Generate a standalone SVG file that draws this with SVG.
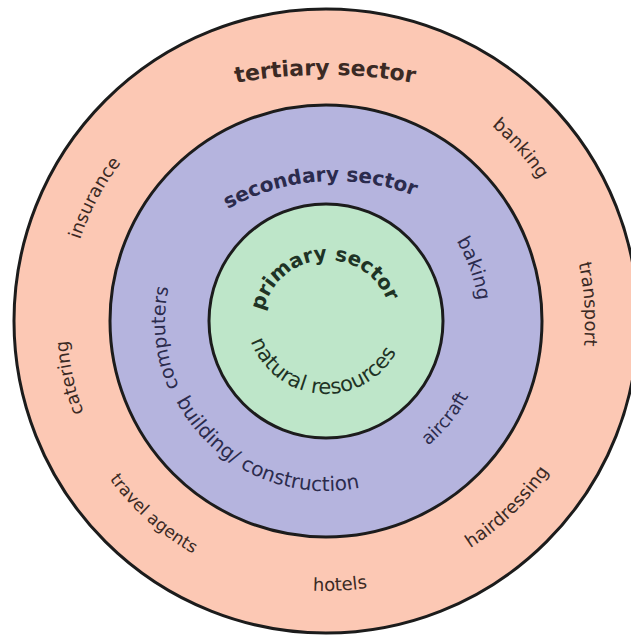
<svg xmlns="http://www.w3.org/2000/svg" xmlns:xlink="http://www.w3.org/1999/xlink" width="631" height="637" viewBox="0 0 631 637">
<style>
.ring{stroke:#1c1c1c;stroke-width:3}
.t{font-family:"DejaVu Sans","Liberation Sans",sans-serif}
.b{font-weight:bold}
.o{fill:#3b2a24}
.m{fill:#2b2b4d}
.i{fill:#1e3325}
</style>
<defs>
<path id="pTer" d="M -175 575 A 500 500 0 0 1 325 75 A 500 500 0 0 1 825 575"/>
<path id="pBank" d="M 156.03 129.56 A 256 256 0 0 1 517.44 151.03 A 256 256 0 0 1 495.97 512.44"/>
<path id="pTrans" d="M 309.29 62.54 A 259 259 0 0 1 584.46 304.29 A 259 259 0 0 1 342.71 579.46"/>
<path id="pCat" d="M 382.06 573.86 A 259 259 0 0 1 73.14 377.06 A 259 259 0 0 1 269.94 68.14"/>
<path id="pIns" d="M 204.41 549.68 A 259 259 0 0 1 97.32 199.41 A 259 259 0 0 1 447.59 92.32"/>
<path id="pHair" d="M 133.15 508.54 A 269 269 0 0 0 513.54 513.85 A 269 269 0 0 0 518.85 133.46"/>
<path id="pHot" d="M 56.37 335.13 A 270 270 0 0 0 340.13 590.63 A 270 270 0 0 0 595.63 306.87"/>
<path id="pTrav" d="M 126.21 142.37 A 268 268 0 0 0 147.37 520.79 A 268 268 0 0 0 525.79 499.63"/>
<path id="pSec" d="M 116.53 415.28 A 219 219 0 0 1 319.72 181.53 A 219 219 0 0 1 553.47 384.72"/>
<path id="pBak" d="M 274.68 176.86 A 153 153 0 0 1 470.14 269.68 A 153 153 0 0 1 377.32 465.14"/>
<path id="pComp" d="M 342.83 481.12 A 161 161 0 0 1 165.88 337.83 A 161 161 0 0 1 309.17 160.88"/>
<path id="pAir" d="M 224.03 445.59 A 161 161 0 0 0 450.59 422.97 A 161 161 0 0 0 427.97 196.41"/>
<path id="pBuild" d="M 172.18 248.62 A 170 170 0 0 0 253.62 474.82 A 170 170 0 0 0 479.82 393.38"/>
<path id="pPrim" d="M 262.20 330.10 A 65 65 0 0 1 321.90 260.20 A 65 65 0 0 1 391.80 319.90"/>
<path id="pNat" d="M 246.22 308.14 A 80 80 0 0 0 320.14 393.78 A 80 80 0 0 0 405.78 319.86"/>
</defs>
<rect width="631" height="637" fill="#ffffff"/>
<g id="tertiary">
<circle class="ring" cx="326" cy="321" r="312" fill="#fcc8b4"/>
<text class="t b o" font-size="22"><textPath xlink:href="#pTer" href="#pTer" startOffset="50%" text-anchor="middle">tertiary sector</textPath></text>
<text class="t o" font-size="18"><textPath xlink:href="#pBank" href="#pBank" startOffset="50%" text-anchor="middle">banking</textPath></text>
<text class="t o" font-size="18"><textPath xlink:href="#pTrans" href="#pTrans" startOffset="50%" text-anchor="middle">transport</textPath></text>
<text class="t o" font-size="18"><textPath xlink:href="#pHair" href="#pHair" startOffset="50%" text-anchor="middle">hairdressing</textPath></text>
<text class="t o" font-size="18"><textPath xlink:href="#pHot" href="#pHot" startOffset="50%" text-anchor="middle">hotels</textPath></text>
<text class="t o" font-size="17"><textPath xlink:href="#pTrav" href="#pTrav" startOffset="50%" text-anchor="middle">travel agents</textPath></text>
<text class="t o" font-size="18"><textPath xlink:href="#pCat" href="#pCat" startOffset="50%" text-anchor="middle">catering</textPath></text>
<text class="t o" font-size="18"><textPath xlink:href="#pIns" href="#pIns" startOffset="50%" text-anchor="middle">insurance</textPath></text>
</g>
<g id="secondary">
<circle class="ring" cx="326" cy="321" r="216" fill="#b5b4de"/>
<text class="t b m" font-size="20"><textPath xlink:href="#pSec" href="#pSec" startOffset="50%" text-anchor="middle">secondary sector</textPath></text>
<text class="t m" font-size="19"><textPath xlink:href="#pBak" href="#pBak" startOffset="50%" text-anchor="middle">baking</textPath></text>
<text class="t m" font-size="18"><textPath xlink:href="#pAir" href="#pAir" startOffset="50%" text-anchor="middle">aircraft</textPath></text>
<text class="t m" font-size="20"><textPath xlink:href="#pBuild" href="#pBuild" startOffset="50%" text-anchor="middle">building/ construction</textPath></text>
<text class="t m" font-size="19"><textPath xlink:href="#pComp" href="#pComp" startOffset="50%" text-anchor="middle">computers</textPath></text>
</g>
<g id="primary">
<circle class="ring" cx="326" cy="321" r="117" fill="#bee6c9"/>
<text class="t b i" font-size="20"><textPath xlink:href="#pPrim" href="#pPrim" startOffset="50%" text-anchor="middle">primary sector</textPath></text>
<text class="t i" font-size="21"><textPath xlink:href="#pNat" href="#pNat" startOffset="50%" text-anchor="middle">natural resources</textPath></text>
</g>
<g id="connectors"/>
</svg>
